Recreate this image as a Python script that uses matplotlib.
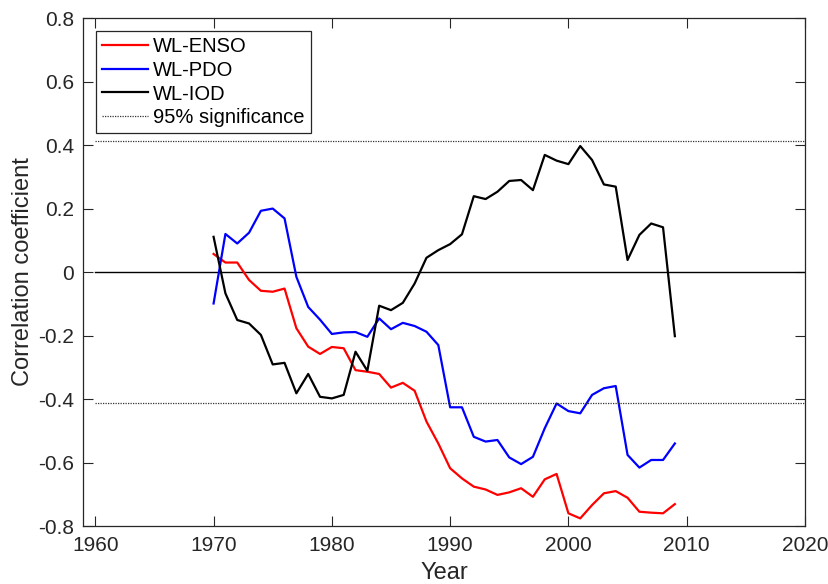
import numpy as np
import matplotlib
matplotlib.use("Agg")
import matplotlib.pyplot as plt

plt.rcParams['font.family'] = ['Liberation Sans', 'DejaVu Sans']

years = np.arange(1970, 2010)
enso = [0.057, 0.03, 0.03, -0.025, -0.059, -0.062, -0.052, -0.177, -0.235, -0.258,
        -0.236, -0.24, -0.309, -0.314, -0.321, -0.364, -0.349, -0.374, -0.471, -0.54,
        -0.618, -0.65, -0.676, -0.685, -0.702, -0.694, -0.681, -0.708, -0.653, -0.636,
        -0.76, -0.776, -0.734, -0.697, -0.69, -0.711, -0.755, -0.758, -0.76, -0.731]
pdo = [-0.099, 0.12, 0.09, 0.124, 0.193, 0.20, 0.169, -0.015, -0.11, -0.15,
       -0.195, -0.19, -0.189, -0.204, -0.146, -0.18, -0.16, -0.17, -0.188, -0.23,
       -0.426, -0.426, -0.519, -0.534, -0.529, -0.584, -0.605, -0.582, -0.492, -0.414,
       -0.438, -0.445, -0.387, -0.366, -0.359, -0.576, -0.616, -0.592, -0.592, -0.54]
iod = [0.111, -0.067, -0.151, -0.162, -0.198, -0.291, -0.286, -0.382, -0.321, -0.393,
       -0.398, -0.387, -0.251, -0.311, -0.106, -0.12, -0.097, -0.036, 0.045, 0.069,
       0.088, 0.119, 0.239, 0.23, 0.253, 0.287, 0.29, 0.258, 0.369, 0.351,
       0.34, 0.397, 0.353, 0.276, 0.269, 0.038, 0.117, 0.153, 0.141, -0.202]
sig = 0.413
line_x = [1960, 2020]

xticks = [1960, 1970, 1980, 1990, 2000, 2010, 2020]
yticks = [-0.8, -0.6, -0.4, -0.2, 0, 0.2, 0.4, 0.6, 0.8]
ytick_labels = ['-0.8', '-0.6', '-0.4', '-0.2', '0', '0.2', '0.4', '0.6', '0.8']

fig = plt.figure(figsize=(8.29, 5.84), dpi=100)
ax = fig.add_axes([0.1007, 0.0993, 0.8703, 0.8697])

ax.plot(line_x, [0, 0], color='black', lw=1.0)
ax.plot(years, enso, color='#ff0000', lw=1.6, label='WL-ENSO')
ax.plot(years, pdo, color='#0000ff', lw=1.6, label='WL-PDO')
ax.plot(years, iod, color='black', lw=1.6, label='WL-IOD')
ax.plot(line_x, [sig, sig], color='#333333', lw=0.9, ls=(0, (1, 1)), label='95% significance')
ax.plot(line_x, [-sig, -sig], color='#333333', lw=0.9, ls=(0, (1, 1)))

ax.set_xlim(1959, 2020)
ax.set_ylim(-0.8, 0.8)
ax.set_xticks(xticks)
ax.set_yticks(yticks)
ax.set_yticklabels(ytick_labels)
ax.tick_params(direction='in', length=7, width=0.8, colors='#262626', labelsize=15,
               top=True, right=True, pad=7)
for s in ax.spines.values():
    s.set_color('#262626')
    s.set_linewidth(0.9)

ax.set_xlabel('Year', fontsize=17, color='#262626', labelpad=5)
ax.set_ylabel('Correlation coefficient', fontsize=17, color='#262626', labelpad=3)

leg = ax.legend(loc='upper left', bbox_to_anchor=(0.017, 0.975), fontsize=14.5,
                frameon=True, fancybox=False, handlelength=2.3, handletextpad=0.25,
                labelspacing=0.24, borderpad=0.3, borderaxespad=0)
leg.get_frame().set_edgecolor('#262626')
leg.get_frame().set_linewidth(0.9)
leg.get_frame().set_alpha(1)

fig.savefig('out.png', dpi=100)
